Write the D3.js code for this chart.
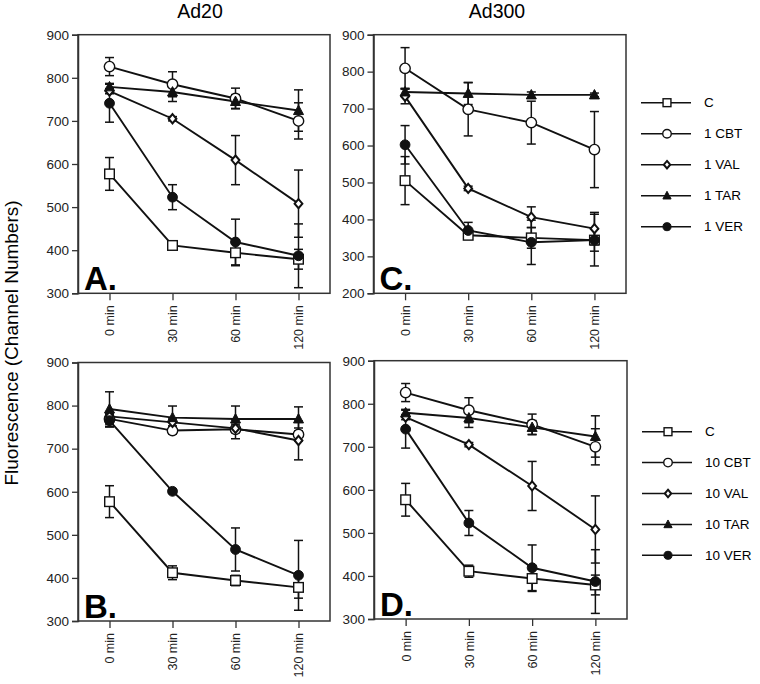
<!DOCTYPE html>
<html><head><meta charset="utf-8">
<script src="https://cdn.jsdelivr.net/npm/d3@7"></script>
<style>
html,body{margin:0;padding:0;background:#fff;}
text{font-family:"Liberation Sans",Arial,Helvetica,sans-serif;}
</style></head>
<body><svg id="c" width="760" height="684"></svg>
<script>
// ---------- DATA ----------
const times = ["0 min", "30 min", "60 min", "120 min"];
const seriesKeys = ["C", "CBT", "VAL", "TAR", "VER"];
const legendTop = ["C", "1 CBT", "1 VAL", "1 TAR", "1 VER"];
const legendBottom = ["C", "10 CBT", "10 VAL", "10 TAR", "10 VER"];
const yTicksAB = [300, 400, 500, 600, 700, 800, 900];
const yTicksC = [200, 300, 400, 500, 600, 700, 800, 900];

// Panel A (Ad20, 1 µM)
const A_C   = [577, 411, 394, 379], A_C_err   = [38, 8, 30, 23];
const A_CBT = [826, 785, 752, 700], A_CBT_err = [21, 29, 24, 42];
const A_VAL = [769, 705, 609, 508], A_VAL_err = [6, 5, 57, 78];
const A_TAR = [779, 767, 745, 724], A_TAR_err = [8, 22, 16, 48];
const A_VER = [741, 523, 419, 387], A_VER_err = [44, 29, 53, 74];

// Panel C (Ad300, 1 µM)
const C_C   = [505, 357, 350, 344], C_C_err   = [65, 8, 28, 30];
const C_CBT = [809, 698, 662, 589], C_CBT_err = [56, 72, 58, 103];
const C_VAL = [733, 484, 406, 375], C_VAL_err = [20, 6, 28, 44];
const C_TAR = [745, 741, 737, 737], C_TAR_err = [10, 30, 8, 5];
const C_VER = [602, 370, 338, 344], C_VER_err = [52, 22, 60, 70];

// Panel B (Ad20, 10 µM)
const B_C   = [577, 412, 394, 378], B_C_err   = [37, 16, 12, 25];
const B_CBT = [769, 742, 745, 733], B_CBT_err = [12, 8, 22, 15];
const B_VAL = [775, 761, 747, 719], B_VAL_err = [10, 8, 10, 45];
const B_TAR = [792, 772, 769, 769], B_TAR_err = [40, 27, 30, 28];
const B_VER = [765, 601, 466, 406], B_VER_err = [15, 5, 50, 81];

// Panel D (Ad300, 10 µM)
const D_C   = [577, 411, 394, 379], D_C_err   = [38, 14, 30, 23];
const D_CBT = [826, 785, 752, 700], D_CBT_err = [21, 29, 24, 42];
const D_VAL = [769, 705, 609, 508], D_VAL_err = [6, 5, 57, 78];
const D_TAR = [779, 767, 745, 724], D_TAR_err = [8, 22, 16, 48];
const D_VER = [741, 523, 419, 387], D_VER_err = [44, 29, 53, 74];

// ---------- DRAW ----------
const svg = d3.select("#c");
const INK = "#111";
const FRAME = "#333";

function markerPath(kind, g, cx, cy, s) {
  s = s || 1;
  if (kind === "C") {
    const h = 4.8 * s;
    g.append("rect").attr("x", cx - h).attr("y", cy - h).attr("width", 2 * h).attr("height", 2 * h)
      .attr("fill", "#fff").attr("stroke", INK).attr("stroke-width", 1.4);
  } else if (kind === "CBT") {
    g.append("circle").attr("cx", cx).attr("cy", cy).attr("r", 5.2 * s)
      .attr("fill", "#fff").attr("stroke", INK).attr("stroke-width", 1.4);
  } else if (kind === "VAL") {
    const w = 3.9 * s, h = 4.6 * s;
    g.append("path").attr("d", `M${cx},${cy-h}L${cx+w},${cy}L${cx},${cy+h}L${cx-w},${cy}Z`)
      .attr("fill", "#fff").attr("stroke", INK).attr("stroke-width", 2);
  } else if (kind === "TAR") {
    const w = 5 * s, t = 5.4 * s, b = 4 * s;
    g.append("path").attr("d", `M${cx},${cy-t}L${cx+w},${cy+b}L${cx-w},${cy+b}Z`)
      .attr("fill", INK).attr("stroke", INK).attr("stroke-width", 1);
  } else if (kind === "VER") {
    g.append("circle").attr("cx", cx).attr("cy", cy).attr("r", 4.9 * s)
      .attr("fill", INK).attr("stroke", INK).attr("stroke-width", 1);
  }
}

function panel(opt) {
  const {left, right, top, bottom, domain, ticks, data, errs, letter} = opt;
  const x = d3.scalePoint().domain(times).range([left, right]).padding(0.5);
  const y = d3.scaleLinear().domain(domain).range([bottom, top]);
  const g = svg.append("g");

  // frame
  g.append("rect").attr("x", left).attr("y", top).attr("width", right - left).attr("height", bottom - top)
    .attr("fill", "none").attr("stroke", FRAME).attr("stroke-width", 1.5);

  // y axis
  const ya = g.append("g").attr("transform", `translate(${left},0)`)
    .call(d3.axisLeft(y).tickValues(ticks).tickSize(6).tickPadding(3).tickFormat(d3.format("d")));
  ya.select(".domain").attr("stroke", FRAME).attr("stroke-width", 1.5);
  ya.selectAll(".tick line").attr("stroke", FRAME).attr("stroke-width", 1.3);
  ya.selectAll("text").attr("font-size", 13.5).attr("fill", "#222")
    .attr("font-family", "'Liberation Sans',Arial,sans-serif");

  // x axis
  const xa = g.append("g").attr("transform", `translate(0,${bottom})`)
    .call(d3.axisBottom(x).tickSize(7).tickSizeOuter(0));
  xa.select(".domain").remove();
  xa.selectAll(".tick line").attr("stroke", FRAME).attr("stroke-width", 1.3);
  xa.selectAll("text").attr("font-size", 12.5).attr("fill", "#222")
    .attr("font-family", "'Liberation Sans',Arial,sans-serif")
    .attr("transform", "rotate(-90)").attr("text-anchor", "end")
    .attr("x", -12).attr("y", 0).attr("dy", "0.35em");

  // error bars
  seriesKeys.forEach((k, si) => {
    const vals = data[si], er = errs[si];
    times.forEach((t, i) => {
      const cx = x(t), y1 = y(vals[i] + er[i]), y2 = y(vals[i] - er[i]);
      g.append("line").attr("x1", cx).attr("x2", cx).attr("y1", y1).attr("y2", y2)
        .attr("stroke", INK).attr("stroke-width", 1.5);
      [y1, y2].forEach(yy => g.append("line").attr("x1", cx - 4.5).attr("x2", cx + 4.5)
        .attr("y1", yy).attr("y2", yy).attr("stroke", INK).attr("stroke-width", 1.5));
    });
  });

  // lines
  const line = d3.line().x((d, i) => x(times[i])).y(d => y(d));
  seriesKeys.forEach((k, si) => {
    g.append("path").attr("d", line(data[si])).attr("fill", "none")
      .attr("stroke", INK).attr("stroke-width", 1.9);
  });

  // markers
  seriesKeys.forEach((k, si) => {
    data[si].forEach((v, i) => markerPath(k, g, x(times[i]), y(v)));
  });

  // panel letter
  g.append("text").attr("x", left + 6).attr("y", bottom - 3).text(letter)
    .attr("font-size", 33).attr("font-weight", "bold").attr("fill", "#000")
    .attr("font-family", "'Liberation Sans',Arial,sans-serif");
}

panel({left: 78, right: 330, top: 34.7, bottom: 293.3, domain: [300, 900], ticks: yTicksAB,
  data: [A_C, A_CBT, A_VAL, A_TAR, A_VER], errs: [A_C_err, A_CBT_err, A_VAL_err, A_TAR_err, A_VER_err], letter: "A."});
panel({left: 373.5, right: 626, top: 34.7, bottom: 293.3, domain: [200, 900], ticks: yTicksC,
  data: [C_C, C_CBT, C_VAL, C_TAR, C_VER], errs: [C_C_err, C_CBT_err, C_VAL_err, C_TAR_err, C_VER_err], letter: "C."});
panel({left: 78, right: 330, top: 362.5, bottom: 621, domain: [300, 900], ticks: yTicksAB,
  data: [B_C, B_CBT, B_VAL, B_TAR, B_VER], errs: [B_C_err, B_CBT_err, B_VAL_err, B_TAR_err, B_VER_err], letter: "B."});
panel({left: 374, right: 627, top: 360.7, bottom: 619, domain: [300, 900], ticks: yTicksAB,
  data: [D_C, D_CBT, D_VAL, D_TAR, D_VER], errs: [D_C_err, D_CBT_err, D_VAL_err, D_TAR_err, D_VER_err], letter: "D."});

// titles
svg.append("text").attr("x", 200).attr("y", 17.5).attr("text-anchor", "middle").attr("font-size", 19.5).text("Ad20");
svg.append("text").attr("x", 497).attr("y", 17.5).attr("text-anchor", "middle").attr("font-size", 19.5).text("Ad300");

// y label
svg.append("text").attr("transform", "translate(17.5,343) rotate(-90)").attr("text-anchor", "middle")
  .attr("font-size", 19).text("Fluorescence (Channel Numbers)");

// legends
function legend(labels, x0, y0, step) {
  const g = svg.append("g");
  labels.forEach((lab, i) => {
    const yy = y0 + i * step;
    g.append("line").attr("x1", x0).attr("x2", x0 + 50).attr("y1", yy).attr("y2", yy)
      .attr("stroke", INK).attr("stroke-width", 1.5);
    markerPath(seriesKeys[i], g, x0 + 26, yy, 0.82);
    g.append("text").attr("x", x0 + 63).attr("y", yy).attr("dy", "0.35em").attr("font-size", 13.5).text(lab);
  });
}
legend(legendTop, 641, 102.7, 31);
legend(legendBottom, 642, 431.7, 30.9);
</script>
</body></html>
